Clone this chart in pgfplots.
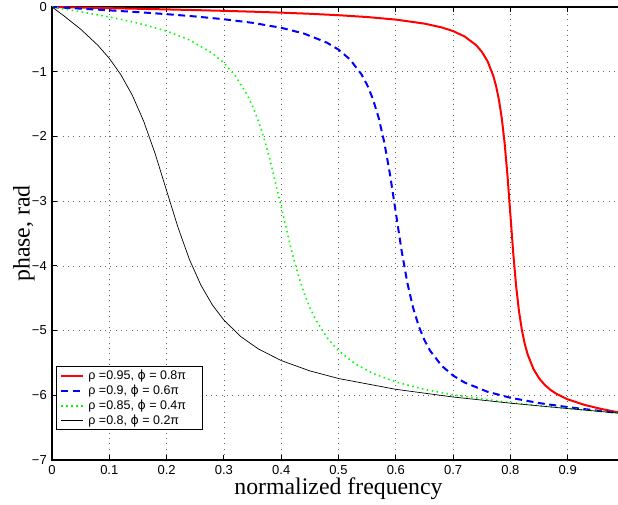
\documentclass[border=0pt]{standalone}
\usepackage{fontspec}
\setmainfont{Liberation Sans}
\newfontfamily\seriffont{Liberation Serif}
\newfontfamily\dejavu{DejaVu Sans}
\usepackage{pgfplots}
\pgfplotsset{compat=1.18}
\begin{document}
\begin{tikzpicture}
\begin{axis}[
  name=ax,
  width=573pt, height=453pt, scale only axis,
  xmin=0, xmax=1, ymin=-7, ymax=0,
  xtick={0,0.1,0.2,0.3,0.4,0.5,0.6,0.7,0.8,0.9,1},
  xticklabels={0,0.1,0.2,0.3,0.4,0.5,0.6,0.7,0.8,0.9,{}},
  ytick={-7,-6,-5,-4,-3,-2,-1,0},
  yticklabels={−7,−6,−5,−4,−3,−2,−1,0},
  tick align=inside,
  major tick length=5pt,
  tick style={black, line width=0.9pt},
  axis line style={black, line width=1.2pt},
  grid=major,
  major grid style={black!60, line width=0.7pt, dash pattern=on 0.8pt off 4.5pt},
  ticklabel style={font=\fontsize{13}{15}\selectfont},
  xticklabel style={inner sep=0pt, yshift=-5pt},
  yticklabel style={inner sep=0pt, xshift=-5pt},
  xlabel={normalized frequency},
  ylabel={phase, rad},
  xlabel style={at={(axis description cs:0.5,-0.0397)}, anchor=north, inner sep=0pt, font=\seriffont\fontsize{23.8}{28}\selectfont},
  ylabel style={at={(axis description cs:-0.0297,0.5)}, anchor=south, inner sep=0pt, font=\seriffont\fontsize{23.8}{28}\selectfont},
  legend style={at={(0.007,0.066)}, anchor=south west, draw=black, line width=0.8pt, fill=white,
    font=\fontsize{12.5}{14}\selectfont, inner xsep=4pt, inner ysep=1.5pt, row sep=0pt},
  legend cell align=left,
  legend image code/.code={\draw[#1] (0pt,0pt) -- (22pt,0pt);},
]
\addplot[red, line width=2pt] coordinates {
(0,0) (0.05,-0.0088) (0.1,-0.0180) (0.15,-0.0274) (0.2,-0.0372) (0.25,-0.0478) (0.3,-0.0594) (0.35,-0.0724) (0.4,-0.0872) (0.45,-0.1048) (0.5,-0.1268) (0.55,-0.1550) (0.6,-0.1946) (0.65,-0.2566) (0.68,-0.3154) (0.7,-0.3722) (0.72,-0.4552) (0.74,-0.5880) (0.75,-0.6900) (0.76,-0.8360) (0.77,-1.0600) (0.775,-1.2214) (0.78,-1.4348) (0.785,-1.7224) (0.79,-2.1106) (0.795,-2.6164) (0.8,-3.2122) (0.805,-3.8080) (0.81,-4.3138) (0.815,-4.7022) (0.82,-4.9900) (0.825,-5.2036) (0.83,-5.3652) (0.84,-5.5900) (0.85,-5.7368) (0.86,-5.8400) (0.87,-5.9166) (0.88,-5.9758) (0.9,-6.0628) (0.93,-6.1502) (0.96,-6.2136) (0.988,-6.2630) (1,-6.2832)
};
\addlegendentry{\hspace*{2pt}ρ =0.95, {\dejavu ϕ} = 0.8π\hspace*{10pt}}
\addplot[blue, line width=2pt, dash pattern=on 7pt off 4.5pt] coordinates {
(0,0) (0.05,-0.0254) (0.1,-0.0516) (0.15,-0.0794) (0.2,-0.1104) (0.25,-0.1462) (0.3,-0.1892) (0.35,-0.2446) (0.4,-0.3212) (0.44,-0.4110) (0.48,-0.5518) (0.5,-0.6584) (0.52,-0.8094) (0.54,-1.0396) (0.55,-1.2040) (0.56,-1.4202) (0.57,-1.7092) (0.58,-2.0956) (0.59,-2.5938) (0.6,-3.1758) (0.61,-3.7578) (0.62,-4.2560) (0.63,-4.6426) (0.64,-4.9316) (0.65,-5.1480) (0.66,-5.3128) (0.68,-5.5434) (0.7,-5.6950) (0.72,-5.8024) (0.76,-5.9456) (0.8,-6.0384) (0.85,-6.1202) (0.9,-6.1826) (0.95,-6.2348) (0.988,-6.2718) (1,-6.2832)
};
\addlegendentry{\hspace*{2pt}ρ =0.9, {\dejavu ϕ} = 0.6π}
\addplot[green, line width=1.6pt, dash pattern=on 1.5pt off 3.5pt] coordinates {
(0,0) (0.05,-0.0736) (0.1,-0.1538) (0.15,-0.2484) (0.2,-0.3716) (0.24,-0.5088) (0.28,-0.7148) (0.3,-0.8636) (0.32,-1.0648) (0.34,-1.3478) (0.35,-1.5334) (0.36,-1.7576) (0.37,-2.0268) (0.38,-2.3436) (0.4,-3.0890) (0.42,-3.8340) (0.43,-4.1506) (0.44,-4.4198) (0.45,-4.6436) (0.46,-4.8290) (0.48,-5.1110) (0.5,-5.3114) (0.53,-5.5188) (0.56,-5.6614) (0.6,-5.7940) (0.65,-5.9094) (0.7,-5.9932) (0.8,-6.1136) (0.9,-6.2040) (0.988,-6.2740) (1,-6.2832)
};
\addlegendentry{\hspace*{2pt}ρ =0.85, {\dejavu ϕ} = 0.4π}
\addplot[black, line width=0.7pt] coordinates {
(0,0) (0.02,-0.1316) (0.05,-0.3426) (0.08,-0.5908) (0.1,-0.7940) (0.12,-1.0438) (0.14,-1.3604) (0.16,-1.7648) (0.18,-2.2660) (0.2,-2.8382) (0.22,-3.4084) (0.24,-3.9048) (0.26,-4.3006) (0.28,-4.6050) (0.3,-4.8384) (0.33,-5.0968) (0.36,-5.2830) (0.4,-5.4630) (0.45,-5.6230) (0.5,-5.7406) (0.6,-5.9076) (0.7,-6.0266) (0.8,-6.1220) (0.9,-6.2052) (0.988,-6.2740) (1,-6.2832)
};
\addlegendentry{\hspace*{2pt}ρ =0.8, {\dejavu ϕ} = 0.2π}
\end{axis}
\pgfresetboundingbox
\path ([shift={(-52pt,-44pt)}]ax.south west) rectangle ([shift={(-7pt,7pt)}]ax.north east);
\end{tikzpicture}
\end{document}
